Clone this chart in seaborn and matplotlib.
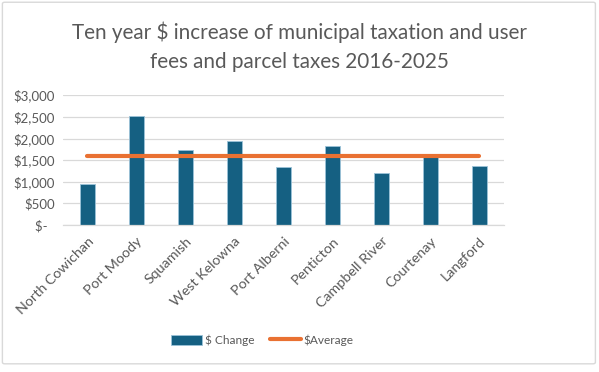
import matplotlib
matplotlib.use("Agg")
import matplotlib.pyplot as plt
import seaborn as sns
import pandas as pd
from matplotlib.patches import FancyBboxPatch, Patch
from matplotlib.lines import Line2D

cities = ["North Cowichan", "Port Moody", "Squamish", "West Kelowna", "Port Alberni",
          "Penticton", "Campbell River", "Courtenay", "Langford"]
change = [955, 2520, 1725, 1943, 1342, 1827, 1210, 1590, 1365]
average = [1605] * len(cities)
yticks = [0, 500, 1000, 1500, 2000, 2500, 3000]
ytick_labels = ["$-  ", "$500", "$1,000", "$1,500", "$2,000", "$2,500", "$3,000"]
title = "Ten year $ increase of municipal taxation and user\nfees and parcel taxes 2016-2025"

df = pd.DataFrame({"city": cities, "change": change, "average": average})

sns.set_theme(style="white")
plt.rcParams["font.family"] = ["Lato", "DejaVu Sans"]

bar_color = "#156082"
line_color = "#E97132"
text_color = "#595959"

fig = plt.figure(figsize=(5.99, 3.72), dpi=100)
ax = fig.add_axes([0.105, 0.395, 0.736, 0.349])

sns.barplot(data=df, x="city", y="change", color=bar_color, width=0.31,
            edgecolor="#9cc3d9", linewidth=0.6, saturation=1, ax=ax)
sns.lineplot(data=df, x="city", y="average", sort=False, color=line_color,
             linewidth=3.0, ax=ax, zorder=5)

ax.set_ylim(0, 3000)
ax.set_xlim(-0.5, len(cities) - 0.5)
ax.set_yticks(yticks)
ax.set_yticklabels(ytick_labels, color=text_color, fontsize=9.5)
ax.yaxis.grid(True, color="#d9d9d9", linewidth=0.9)
ax.set_axisbelow(True)
ax.tick_params(axis="both", length=0, pad=6)
ax.set_xticks(range(len(cities)))
ax.set_xticklabels(cities, rotation=45, ha="right", rotation_mode="anchor",
                   color=text_color, fontsize=10.3)
ax.tick_params(axis="x", pad=7)
ax.set_xlabel("")
ax.set_ylabel("")
for s in ["top", "right", "left"]:
    ax.spines[s].set_visible(False)
ax.spines["bottom"].set_color("#d9d9d9")
ax.spines["bottom"].set_linewidth(0.9)

fig.text(0.5, 0.874, title, ha="center", va="center", fontsize=14.9,
         color=text_color, linespacing=1.55)

handles = [Patch(facecolor=bar_color, edgecolor="#9cc3d9", linewidth=0.6),
           Line2D([0], [0], color=line_color, linewidth=3.0)]
fig.legend(handles, ["$ Change", "$Average"], loc="center", bbox_to_anchor=(0.438, 0.086),
           ncol=2, frameon=False, fontsize=8.6, labelcolor=text_color,
           handlelength=2.6, handleheight=0.95, handletextpad=0.25, columnspacing=1.3)

border = FancyBboxPatch((0.004, 0.022), 0.99, 0.972, boxstyle="round,pad=0,rounding_size=0.004",
                        transform=fig.transFigure, facecolor="none", edgecolor="#d9d9d9",
                        linewidth=1.0)
fig.patches.append(border)

fig.savefig("out.png", dpi=100)
